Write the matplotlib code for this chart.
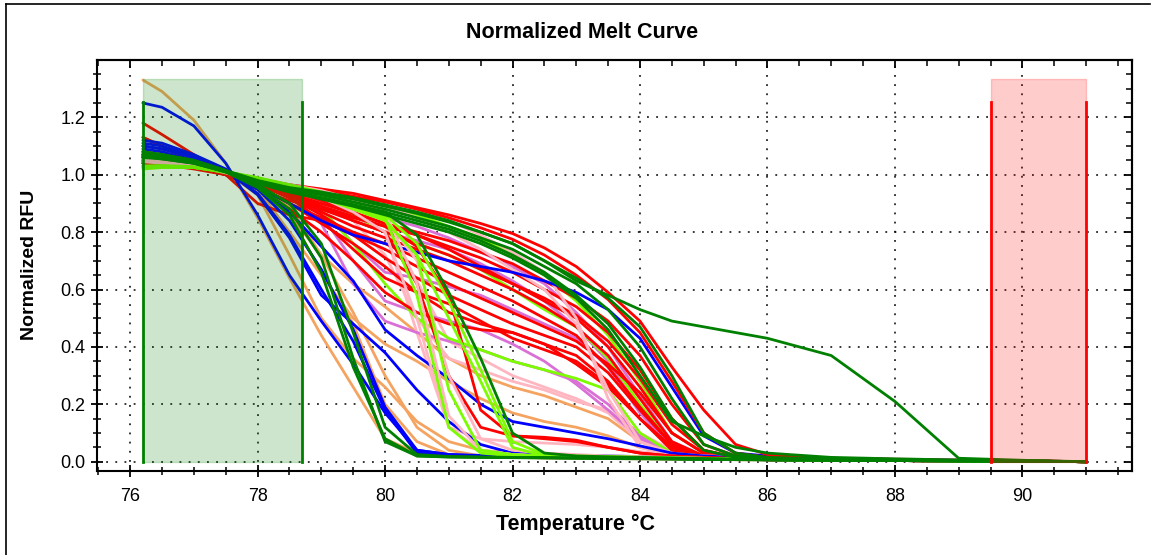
import matplotlib
matplotlib.use("Agg")
import matplotlib.pyplot as plt
from matplotlib.ticker import MultipleLocator, NullFormatter

plt.rcParams['font.family'] = ['Liberation Sans', 'DejaVu Sans']

# Temperature grid (deg C)
T = [76.2, 76.5, 77.0, 77.5, 78.0, 78.5, 79.0, 79.5, 80.0, 80.5, 81.0, 81.5, 82.0,
     82.5, 83.0, 83.5, 84.0, 84.5, 85.0, 85.5, 86.0, 87.0, 88.0, 89.0, 90.0, 91.0]

# ---- early melting curves ----
O1 = [1.33,1.29,1.19,1.04,0.85,0.64,0.44,0.26, 0.08,0.03,0.02,0.017,0.015,0.013,0.012,0.011, 0.01,0.009,0.008,0.007,0.006, 0.005,0.004,0.003,0.002,0.0]
B1 = [1.25,1.235,1.17,1.04,0.86,0.65,0.49,0.34, 0.17,0.04,0.025,0.022,0.02,0.019,0.018,0.016, 0.014,0.012,0.01,0.008,0.007, 0.005,0.004,0.003,0.002,0.0]
G1 = [1.07,1.065,1.045,1.01,0.96,0.88,0.71,0.36, 0.07,0.02,0.017,0.016,0.015,0.014,0.013,0.012, 0.011,0.01,0.009,0.008,0.007, 0.005,0.004,0.003,0.002,0.0]
G2 = [1.08,1.07,1.05,1.015,0.965,0.90,0.76,0.45, 0.12,0.025,0.018,0.016,0.015,0.014,0.013,0.012, 0.011,0.01,0.009,0.008,0.007, 0.005,0.004,0.003,0.002,0.0]
G3 = [1.06,1.055,1.04,1.01,0.955,0.86,0.66,0.33, 0.08,0.02,0.016,0.015,0.014,0.013,0.012,0.011, 0.01,0.009,0.008,0.007,0.006, 0.005,0.004,0.003,0.002,0.0]
B2 = [1.12,1.11,1.07,1.02,0.95,0.84,0.67,0.46, 0.19,0.04,0.025,0.02,0.018,0.017,0.016,0.015, 0.013,0.011,0.01,0.008,0.007, 0.005,0.004,0.003,0.002,0.0]
B3 = [1.10,1.09,1.06,1.015,0.935,0.79,0.60,0.42, 0.18,0.03,0.022,0.02,0.018,0.017,0.016,0.015, 0.013,0.011,0.01,0.008,0.007, 0.005,0.004,0.003,0.002,0.0]
O2 = [1.085,1.08,1.05,1.01,0.95,0.86,0.66,0.48, 0.20,0.07,0.025,0.02,0.018,0.016,0.015,0.014, 0.012,0.011,0.01,0.008,0.007, 0.005,0.004,0.003,0.002,0.0]
O2b = [1.07,1.065,1.045,1.01,0.96,0.89,0.72,0.52, 0.30,0.12,0.04,0.02,0.018,0.016,0.015,0.014, 0.012,0.011,0.01,0.008,0.007, 0.005,0.004,0.003,0.002,0.0]

# ---- top group ----
R_top1 = [1.05,1.045,1.03,1.008,0.985,0.965,0.95,0.935, 0.91,0.885,0.86,0.83,0.795,0.745,0.68,0.59, 0.49,0.33,0.18,0.06,0.025, 0.012,0.008,0.005,0.003,0.0]
R_top2 = [1.06,1.05,1.035,1.01,0.985,0.96,0.945,0.925, 0.905,0.88,0.85,0.815,0.775,0.72,0.65,0.565, 0.45,0.28,0.10,0.03,0.015, 0.01,0.006,0.004,0.002,0.0]
G_t1 = [1.08,1.07,1.05,1.015,0.98,0.955,0.94,0.92, 0.895,0.87,0.84,0.80,0.76,0.70,0.64,0.57, 0.47,0.30,0.10,0.03,0.015, 0.01,0.006,0.004,0.002,0.0]
G_t2 = [1.075,1.065,1.045,1.012,0.975,0.95,0.93,0.905, 0.88,0.85,0.82,0.78,0.74,0.68,0.62,0.53, 0.40,0.22,0.06,0.02,0.012, 0.008,0.005,0.003,0.002,0.0]
G_t3 = [1.07,1.06,1.04,1.01,0.97,0.94,0.92,0.895, 0.87,0.84,0.81,0.77,0.72,0.66,0.58,0.48, 0.33,0.15,0.04,0.015,0.01, 0.007,0.005,0.003,0.002,0.0]
G5 = [1.07,1.06,1.045,1.012,0.978,0.952,0.935,0.915, 0.89,0.865,0.835,0.80,0.76,0.70,0.63,0.58, 0.53,0.49,0.47,0.45,0.43, 0.37,0.21,0.012,0.005,0.0]
G_tail = [1.065,1.055,1.04,1.01,0.97,0.94,0.915,0.89, 0.86,0.83,0.80,0.76,0.71,0.65,0.57,0.46, 0.30,0.14,0.09,0.05,0.03, 0.015,0.01,0.006,0.003,0.0]
B6 = [1.09,1.08,1.05,1.01,0.96,0.90,0.84,0.79, 0.76,0.73,0.70,0.68,0.66,0.63,0.59,0.53, 0.43,0.26,0.09,0.03,0.02, 0.012,0.008,0.005,0.003,0.0]

# ---- middle reds ----
Rm1 = [1.13,1.10,1.04,1.0,0.95,0.91,0.88,0.85, 0.82,0.79,0.75,0.71,0.66,0.60,0.54,0.45, 0.32,0.15,0.04,0.015,0.01, 0.007,0.005,0.003,0.002,0.0]
Rm2 = [1.05,1.045,1.03,1.005,0.975,0.94,0.89,0.84, 0.80,0.76,0.72,0.67,0.62,0.56,0.50,0.40, 0.26,0.10,0.03,0.012,0.008, 0.006,0.004,0.003,0.002,0.0]
Rm3 = [1.04,1.035,1.025,1.005,0.97,0.93,0.87,0.82, 0.78,0.74,0.70,0.65,0.60,0.54,0.47,0.37, 0.22,0.07,0.02,0.01,0.007, 0.005,0.004,0.003,0.002,0.0]
Rm4 = [1.06,1.05,1.03,1.0,0.96,0.90,0.85,0.80, 0.76,0.71,0.66,0.61,0.56,0.50,0.44,0.33, 0.19,0.06,0.02,0.01,0.007, 0.005,0.004,0.003,0.002,0.0]
Rm5 = [1.18,1.14,1.07,1.0,0.90,0.86,0.84,0.79, 0.74,0.68,0.62,0.57,0.52,0.47,0.42,0.34, 0.24,0.10,0.03,0.012,0.008, 0.006,0.004,0.003,0.002,0.0]
Rm6 = [1.05,1.04,1.025,1.0,0.965,0.92,0.86,0.79, 0.71,0.64,0.58,0.53,0.48,0.44,0.40,0.31, 0.18,0.06,0.02,0.01,0.007, 0.005,0.004,0.003,0.002,0.0]
Rm7 = [1.04,1.035,1.02,1.0,0.96,0.90,0.83,0.76, 0.68,0.59,0.52,0.48,0.45,0.41,0.37,0.28, 0.15,0.04,0.015,0.01,0.007, 0.005,0.004,0.003,0.002,0.0]
Rm8 = [1.13,1.10,1.04,1.0,0.95,0.88,0.80,0.70, 0.59,0.52,0.48,0.46,0.45,0.41,0.34,0.26, 0.15,0.05,0.02,0.01,0.007, 0.005,0.004,0.003,0.002,0.0]
Rm9 = [1.05,1.045,1.03,1.005,0.97,0.92,0.84,0.74, 0.64,0.59,0.55,0.49,0.43,0.39,0.35,0.27, 0.15,0.05,0.02,0.01,0.007, 0.005,0.004,0.003,0.002,0.0]
Rm10 = [1.06,1.05,1.03,1.0,0.97,0.935,0.90,0.865, 0.83,0.80,0.77,0.73,0.69,0.63,0.57,0.49, 0.37,0.20,0.06,0.02,0.01, 0.007,0.005,0.003,0.002,0.0]
Rm11 = [1.045,1.04,1.025,1.003,0.975,0.945,0.91,0.87, 0.83,0.79,0.74,0.68,0.62,0.57,0.51,0.42, 0.29,0.13,0.04,0.015,0.01, 0.007,0.005,0.003,0.002,0.0]
R_s1 = [1.05,1.045,1.03,1.005,0.975,0.935,0.88,0.84, 0.80,0.62,0.30,0.12,0.09,0.085,0.075,0.05, 0.03,0.02,0.015,0.012,0.01, 0.007,0.005,0.003,0.002,0.0]
R_s2 = [1.06,1.05,1.03,1.003,0.97,0.93,0.89,0.855, 0.82,0.75,0.58,0.18,0.09,0.08,0.07,0.05, 0.03,0.02,0.015,0.01,0.008, 0.006,0.004,0.003,0.002,0.0]

# ---- pinks ----
P_s1 = [1.05,1.045,1.03,1.008,0.985,0.965,0.945,0.915, 0.87,0.62,0.16,0.04,0.025,0.02,0.018,0.016, 0.014,0.012,0.01,0.009,0.008, 0.006,0.005,0.004,0.002,0.0]
P_s2 = [1.055,1.05,1.035,1.01,0.985,0.96,0.935,0.90, 0.85,0.70,0.30,0.08,0.04,0.03,0.025,0.02, 0.018,0.015,0.012,0.01,0.009, 0.007,0.005,0.004,0.002,0.0]
P_s3 = [1.045,1.04,1.03,1.006,0.98,0.955,0.92,0.87, 0.80,0.50,0.12,0.04,0.025,0.02,0.018,0.016, 0.014,0.012,0.01,0.009,0.008, 0.006,0.005,0.004,0.002,0.0]
P7 = [1.05,1.045,1.03,1.006,0.98,0.95,0.91,0.86, 0.80,0.45,0.12,0.08,0.07,0.065,0.06,0.05, 0.035,0.025,0.02,0.017,0.015, 0.012,0.009,0.006,0.003,0.0]
P5 = [1.06,1.05,1.035,1.008,0.98,0.95,0.90,0.84, 0.72,0.50,0.36,0.32,0.28,0.25,0.21,0.18, 0.10,0.04,0.02,0.015,0.012, 0.009,0.007,0.005,0.003,0.0]
P6 = [1.05,1.045,1.03,1.006,0.98,0.955,0.93,0.89, 0.82,0.63,0.42,0.36,0.30,0.26,0.22,0.17, 0.07,0.03,0.018,0.014,0.012, 0.009,0.007,0.005,0.003,0.0]
P_s4 = [1.05,1.045,1.03,1.008,0.985,0.965,0.95,0.93, 0.91,0.88,0.84,0.79,0.73,0.66,0.50,0.22, 0.05,0.025,0.02,0.017,0.015, 0.012,0.009,0.006,0.003,0.0]
P_s5 = [1.055,1.05,1.035,1.01,0.985,0.96,0.94,0.92, 0.89,0.85,0.80,0.74,0.67,0.60,0.48,0.25, 0.07,0.03,0.02,0.017,0.015, 0.012,0.009,0.006,0.003,0.0]

# ---- limes ----
L_s1 = [1.02,1.025,1.025,1.01,0.99,0.965,0.94,0.90, 0.85,0.58,0.12,0.03,0.02,0.018,0.016,0.015, 0.013,0.011,0.01,0.008,0.007, 0.005,0.004,0.003,0.002,0.0]
L_s2 = [1.03,1.032,1.028,1.01,0.988,0.96,0.935,0.89, 0.84,0.72,0.25,0.04,0.025,0.02,0.018,0.016, 0.014,0.012,0.01,0.008,0.007, 0.005,0.004,0.003,0.002,0.0]
L_m1 = [1.03,1.03,1.025,1.01,0.985,0.96,0.93,0.90, 0.86,0.76,0.56,0.32,0.07,0.025,0.02,0.018, 0.016,0.014,0.012,0.01,0.008, 0.006,0.004,0.003,0.002,0.0]
L_m2 = [1.025,1.028,1.025,1.008,0.985,0.955,0.92,0.88, 0.84,0.72,0.50,0.28,0.05,0.02,0.018,0.016, 0.014,0.012,0.01,0.008,0.007, 0.005,0.004,0.003,0.002,0.0]
L3 = [1.03,1.03,1.025,1.008,0.985,0.96,0.92,0.86, 0.80,0.76,0.72,0.67,0.60,0.53,0.47,0.36, 0.20,0.06,0.02,0.012,0.009, 0.006,0.004,0.003,0.002,0.0]
L4 = [1.025,1.028,1.025,1.008,0.98,0.95,0.88,0.76, 0.62,0.50,0.43,0.39,0.35,0.32,0.29,0.25, 0.10,0.03,0.015,0.01,0.008, 0.006,0.004,0.003,0.002,0.0]
L5 = [1.03,1.03,1.026,1.01,0.988,0.965,0.94,0.915, 0.89,0.86,0.82,0.78,0.72,0.65,0.56,0.44, 0.28,0.10,0.03,0.012,0.009, 0.006,0.004,0.003,0.002,0.0]
G4 = [1.065,1.06,1.045,1.012,0.975,0.945,0.92,0.895, 0.87,0.79,0.59,0.36,0.10,0.03,0.02,0.017, 0.015,0.013,0.011,0.009,0.008, 0.006,0.004,0.003,0.002,0.0]

# ---- orchids ----
V1 = [1.04,1.035,1.025,1.004,0.975,0.935,0.86,0.70, 0.56,0.52,0.49,0.46,0.41,0.35,0.27,0.18, 0.08,0.03,0.015,0.01,0.008, 0.006,0.004,0.003,0.002,0.0]
V2 = [1.045,1.04,1.028,1.005,0.978,0.94,0.88,0.76, 0.66,0.64,0.61,0.58,0.53,0.48,0.43,0.33, 0.17,0.05,0.02,0.012,0.009, 0.006,0.004,0.003,0.002,0.0]
V3 = [1.04,1.035,1.025,1.004,0.975,0.93,0.83,0.62, 0.49,0.45,0.42,0.39,0.35,0.32,0.28,0.20, 0.09,0.03,0.015,0.01,0.008, 0.006,0.004,0.003,0.002,0.0]
V4 = [1.05,1.045,1.03,1.007,0.98,0.955,0.93,0.89, 0.85,0.82,0.78,0.73,0.68,0.62,0.52,0.40, 0.23,0.07,0.02,0.012,0.009, 0.006,0.004,0.003,0.002,0.0]
V5 = [1.045,1.04,1.028,1.006,0.978,0.95,0.91,0.86, 0.80,0.77,0.74,0.69,0.63,0.56,0.47,0.35, 0.18,0.05,0.02,0.012,0.009, 0.006,0.004,0.003,0.002,0.0]

# ---- oranges ----
O3 = [1.07,1.06,1.045,1.01,0.95,0.80,0.65,0.50, 0.41,0.35,0.28,0.22,0.17,0.14,0.12,0.09, 0.05,0.025,0.015,0.012,0.01, 0.007,0.005,0.003,0.002,0.0]
O4 = [1.065,1.06,1.04,1.01,0.96,0.86,0.72,0.62, 0.54,0.45,0.36,0.30,0.26,0.23,0.19,0.15, 0.07,0.03,0.015,0.012,0.01, 0.007,0.005,0.003,0.002,0.0]
O5 = [1.08,1.07,1.05,1.01,0.93,0.72,0.50,0.36, 0.26,0.14,0.07,0.04,0.03,0.025,0.02,0.018, 0.015,0.013,0.011,0.01,0.008, 0.006,0.004,0.003,0.002,0.0]

# ---- blues with tails ----
B4 = [1.11,1.10,1.065,1.015,0.95,0.87,0.75,0.63, 0.46,0.37,0.29,0.20,0.14,0.12,0.10,0.08, 0.055,0.03,0.02,0.015,0.012, 0.008,0.006,0.004,0.002,0.0]
B5 = [1.10,1.09,1.06,1.015,0.93,0.78,0.58,0.48, 0.38,0.25,0.14,0.06,0.03,0.025,0.022,0.02, 0.018,0.015,0.012,0.01,0.008, 0.006,0.004,0.003,0.002,0.0]

ORANGE = '#F4A460'
PINK = '#FFB6C1'
ORCHID = '#DA70D6'
LIME = '#7CFC00'
BLUE = '#0000FF'
RED = '#FF0000'
GREEN = '#008000'

series = [
    (O1, ORANGE), (O2, ORANGE), (O2b, ORANGE), (O3, ORANGE), (O4, ORANGE), (O5, ORANGE),
    (P5, PINK), (P6, PINK), (P7, PINK),
    (V1, ORCHID), (V2, ORCHID), (V3, ORCHID), (V4, ORCHID), (V5, ORCHID),
    (L3, LIME), (L4, LIME), (L5, LIME),
    (Rm1, RED), (Rm2, RED), (Rm3, RED), (Rm4, RED), (Rm5, RED), (Rm6, RED),
    (Rm7, RED), (Rm8, RED), (Rm9, RED), (Rm10, RED), (Rm11, RED),
    (P_s4, PINK), (P_s5, PINK),
    (B4, BLUE), (B5, BLUE), (B6, BLUE), (B1, BLUE), (B2, BLUE), (B3, BLUE),
    (R_s1, RED), (R_s2, RED), (R_top1, RED), (R_top2, RED),
    (P_s1, PINK), (P_s2, PINK), (P_s3, PINK),
    (L_s1, LIME), (L_s2, LIME), (L_m1, LIME), (L_m2, LIME),
    (G1, GREEN), (G2, GREEN), (G3, GREEN), (G4, GREEN),
    (G_t1, GREEN), (G_t2, GREEN), (G_t3, GREEN), (G_tail, GREEN), (G5, GREEN),
]

# Melt regions (start, end) and marker height
green_region = (76.2, 78.7)
red_region = (89.5, 91.0)
region_top = 1.333
marker_top = 1.253

W, H = 1157, 555
fig = plt.figure(figsize=(W / 100, H / 100), dpi=100)
ax = fig.add_axes([97 / W, 1 - 471 / H, (1132 - 97) / W, (471 - 60) / H])

for ys, c in series:
    ax.plot(T, ys, color=c, lw=2.0, solid_joinstyle='round', solid_capstyle='round', zorder=2)

ax.fill_between(green_region, 0, region_top, color='#008000', alpha=0.2, lw=1,
                edgecolor='#008000', zorder=3)
ax.fill_between(red_region, 0, region_top, color='#FF0000', alpha=0.2, lw=1,
                edgecolor='#FF0000', zorder=3)
for xv in green_region:
    ax.plot([xv, xv], [0, marker_top], color='#008000', lw=2, zorder=4)
for xv in red_region:
    ax.plot([xv, xv], [0, marker_top], color='#FF0000', lw=2, zorder=4)

ax.set_xlim(75.48, 91.72)
ax.set_ylim(-0.0324, 1.3997)
ax.xaxis.set_major_locator(MultipleLocator(2))
ax.xaxis.set_minor_locator(MultipleLocator(0.5))
ax.set_yticks([0.0, 0.2, 0.4, 0.6, 0.8, 1.0, 1.2])
ax.yaxis.set_minor_locator(MultipleLocator(0.05))

ax.grid(True, which='major', color='black', linestyle=(0, (1.2, 4.8)), lw=1.1, zorder=1)
ax.set_axisbelow(True)

for s in ax.spines.values():
    s.set_linewidth(1.5)
ax.tick_params(axis='both', which='major', direction='inout', length=9, width=1.3,
               labelsize=13)
ax.tick_params(axis='both', which='minor', direction='inout', length=6, width=1.1)
ax.tick_params(axis='x', pad=8)
ax.tick_params(axis='y', pad=4)

# inward ticks on top and right
sx = ax.secondary_xaxis('top')
sx.xaxis.set_major_locator(MultipleLocator(2))
sx.xaxis.set_minor_locator(MultipleLocator(0.5))
sx.xaxis.set_major_formatter(NullFormatter())
sx.tick_params(which='major', direction='in', length=6, width=1.3)
sx.tick_params(which='minor', direction='in', length=4, width=1.1)
sx.spines['top'].set_linewidth(1.5)
sy = ax.secondary_yaxis('right')
sy.set_yticks([0.0, 0.2, 0.4, 0.6, 0.8, 1.0, 1.2])
sy.yaxis.set_minor_locator(MultipleLocator(0.05))
sy.yaxis.set_major_formatter(NullFormatter())
sy.tick_params(which='major', direction='in', length=6, width=1.3)
sy.tick_params(which='minor', direction='in', length=4, width=1.1)
sy.spines['right'].set_linewidth(1.5)

fig.text(582 / W, 1 - 32 / H, 'Normalized Melt Curve', ha='center', va='center',
         fontsize=15.5, fontweight='bold')
fig.text(575 / W, 1 - 524 / H, 'Temperature \u00b0C', ha='center', va='center',
         fontsize=15.5, fontweight='bold')
fig.text(30 / W, 1 - 265 / H, 'Normalized RFU', ha='center', va='center',
         rotation=90, fontsize=14, fontweight='bold')

# outer frame
fig.add_artist(plt.Line2D([6 / W, 1150 / W], [1 - 4 / H, 1 - 4 / H], color='black', lw=1.2))
fig.add_artist(plt.Line2D([6 / W, 6 / W], [0, 1 - 4 / H], color='black', lw=1.2))

fig.savefig('out.png', dpi=100)
